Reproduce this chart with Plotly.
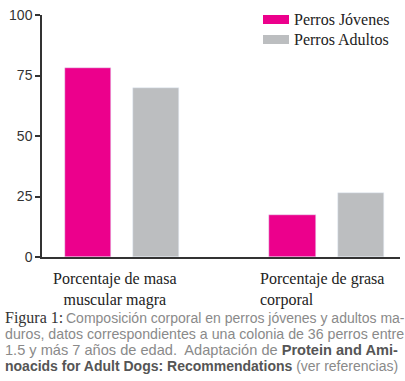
import plotly.graph_objects as go

categories = ["Porcentaje de masa<br>muscular magra", "Porcentaje de grasa<br>corporal"]
series_names = ["Perros Jóvenes", "Perros Adultos"]
jovenes = [78, 17.3]
adultos = [70, 26.5]
y_ticks = [0, 25, 50, 75, 100]
colors = ["#EC008C", "#BCBEC0"]

W, H = 405, 381
L, R, T, B = 42, 5, 15, 124
pw = W - L - R
ph = H - T - B

def px_x(p):
    return (p - L) / pw

def px_y(p):
    return (H - B - p) / ph

cat_idx = [0, 1]
fig = go.Figure()
fig.add_trace(go.Bar(x=cat_idx, y=jovenes, name=series_names[0], marker_color=colors[0],
                     width=0.225, offset=-0.279, showlegend=False, hoverinfo="skip"))
fig.add_trace(go.Bar(x=cat_idx, y=adultos, name=series_names[1], marker_color=colors[1],
                     width=0.225, offset=0.054, showlegend=False, hoverinfo="skip"))

fig.update_layout(
    width=W, height=H, margin=dict(l=L, r=R, t=T, b=B),
    paper_bgcolor="white", plot_bgcolor="white",
    xaxis=dict(range=[-0.391, 1.359], showline=True, linecolor="#333", linewidth=1.5,
               showticklabels=False, ticks="", showgrid=False, zeroline=False),
    yaxis=dict(range=[0, 100], tickvals=y_ticks, showline=True, linecolor="#333", linewidth=1.5,
               ticks="outside", ticklen=5, tickcolor="#333", tickwidth=1.5, showgrid=False,
               zeroline=False, tickfont=dict(family="Liberation Sans", size=14, color="#333")),
    bargap=0,
)

serif = "Liberation Serif, Times New Roman, serif"
anns = []
# category labels
anns.append(dict(x=0, y=px_y(268), xref="x", yref="paper", text=categories[0], showarrow=False,
                 xanchor="center", yanchor="top", xshift=-7, align="center",
                 font=dict(family=serif, size=16, color="#222")))
anns.append(dict(x=1, y=px_y(268), xref="x", yref="paper", text=categories[1], showarrow=False,
                 xanchor="left", yanchor="top", xshift=-69, align="left",
                 font=dict(family=serif, size=16, color="#222")))

# legend
shapes = []
leg_rows = [19.5, 39.5]
for i, (name, c) in enumerate(zip(series_names, colors)):
    yc = leg_rows[i]
    shapes.append(dict(type="rect", xref="paper", yref="paper", x0=px_x(263), x1=px_x(289),
                       y0=px_y(yc - 4.5), y1=px_y(yc + 4.5), fillcolor=c, line=dict(width=0)))
    anns.append(dict(x=px_x(292), y=px_y(yc), xref="paper", yref="paper", text=name, showarrow=False,
                     xanchor="left", yanchor="middle",
                     font=dict(family=serif, size=16, color="#222")))

# caption
g = "#8a8a8a"
cap_lines = [
    "Composición corporal en perros jóvenes y adultos ma-",
    "duros, datos correspondientes a una colonia de 36 perros entre",
    "1.5 y más 7 años de edad.  Adaptación de <b style='color:#555'>Protein and Ami-</b>",
    "<b style='color:#555'>noacids for Adult Dogs: Recommendations</b> (ver referencias)",
]
cap_x = [64, 3, 3, 3]
cap_size = [14.0, 14.2, 14.6, 14.0]
cap_y = [318, 334, 350, 366]
anns.append(dict(x=px_x(3), y=px_y(318), xref="paper", yref="paper", text="Figura 1:", showarrow=False,
                 xanchor="left", yanchor="middle", font=dict(family=serif, size=16, color="#333")))
for txt, xc, sz, yc in zip(cap_lines, cap_x, cap_size, cap_y):
    anns.append(dict(x=px_x(xc), y=px_y(yc), xref="paper", yref="paper", text=txt, showarrow=False,
                     xanchor="left", yanchor="middle",
                     font=dict(family="Liberation Sans", size=sz, color=g)))

fig.update_layout(annotations=anns, shapes=shapes)
fig.write_html("out.html", config={"displayModeBar": False})

with open("out.html", "r", encoding="utf-8") as f:
    html = f.read()
html = html.replace("<head>", "<head><style>html,body{margin:0;padding:0;overflow:hidden;}</style>", 1)
with open("out.html", "w", encoding="utf-8") as f:
    f.write(html)
